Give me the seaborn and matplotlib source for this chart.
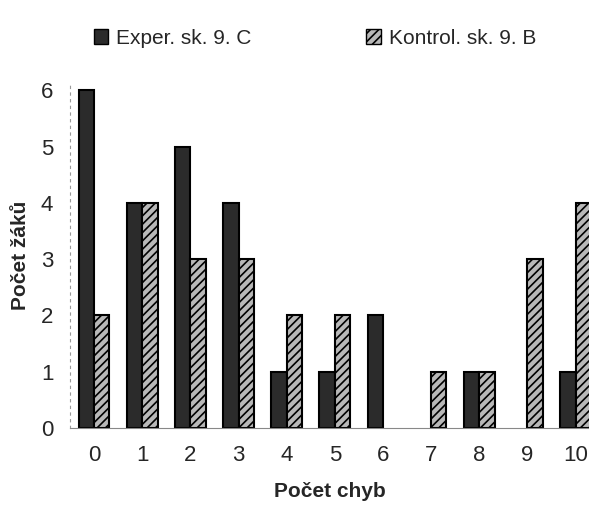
import matplotlib
matplotlib.use("Agg")
import matplotlib.pyplot as plt
import seaborn as sns
import pandas as pd
import numpy as np
from matplotlib.patches import Patch

categories = ["0", "1", "2", "3", "4", "5", "6", "7", "8", "9", "10"]
exper = [6, 4, 5, 4, 1, 1, 2, 0, 1, 0, 1]
kontrol = [2, 4, 3, 3, 2, 2, 0, 1, 1, 3, 4]
series = ["Exper. sk. 9. C", "Kontrol. sk. 9. B"]

df = pd.DataFrame({
    "chyby": categories * 2,
    "zaci": exper + kontrol,
    "skupina": [series[0]] * len(categories) + [series[1]] * len(categories),
})

sns.set_theme(style="white")
plt.rcParams['font.family'] = ['Liberation Sans', 'DejaVu Sans']
plt.rcParams['hatch.color'] = '#555555'
plt.rcParams['hatch.linewidth'] = 1.2

fig = plt.figure(figsize=(5.89, 5.09), dpi=100)
ax = fig.add_axes([70/589, 1-428/509, 519/589, (428-82)/509])

palette = {series[0]: "#2b2b2b", series[1]: "#b8b8b8"}
sns.barplot(data=df, x="chyby", y="zaci", hue="skupina", order=categories,
            hue_order=series, palette=palette, width=0.64, ax=ax,
            edgecolor="black", linewidth=1.5, saturation=1, legend=False)

n = len(categories)
for i, p in enumerate(ax.patches[:2*n]):
    if i >= n:
        p.set_hatch("////")
    if p.get_height() == 0:
        p.set_linewidth(0)
        p.set_visible(False)

ax.set_xlim(-0.45, 10.28)
ax.set_ylim(0, 6.15)
ax.set_yticks(range(7))
ax.tick_params(axis='y', labelsize=16, length=0, pad=12)
ax.tick_params(axis='x', labelsize=16, length=0, pad=12)
ax.set_xticks(np.arange(-0.5, 10.5, 1), minor=True)
ax.tick_params(axis='x', which='minor', length=4, width=0.8, color='#777777', direction='out')

for s in ["top", "right"]:
    ax.spines[s].set_visible(False)
ax.spines["left"].set_color("#999999")
ax.spines["left"].set_linestyle((0, (2, 4)))
ax.spines["left"].set_linewidth(0.8)
ax.spines["bottom"].set_color("#888888")
ax.spines["bottom"].set_linewidth(0.8)

ax.set_xlabel("Počet chyb", fontsize=15, fontweight="bold", labelpad=12)
ax.set_ylabel("Počet žáků", fontsize=15, fontweight="bold", labelpad=8)

handles = [Patch(facecolor=palette[series[0]], edgecolor="black", label=series[0]),
           Patch(facecolor=palette[series[1]], edgecolor="black", hatch="////", label=series[1])]
fig.legend(handles=handles, ncol=2, frameon=False, loc="upper center",
           bbox_to_anchor=(0.535, 0.98), fontsize=15, columnspacing=5.5,
           handlelength=0.7, handleheight=0.7, handletextpad=0.4)

fig.savefig("out.png", dpi=100)
